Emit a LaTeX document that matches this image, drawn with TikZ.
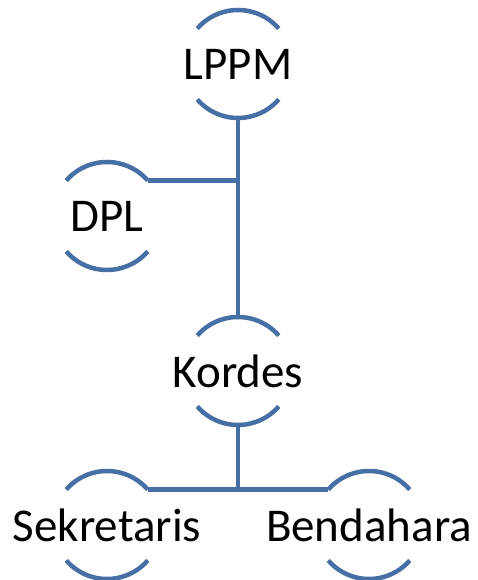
\documentclass[tikz,border=0pt]{standalone}
\usepackage{fontspec}
\setmainfont{Carlito}
\usetikzlibrary{calc}
\definecolor{orgblue}{RGB}{70,111,165}
\def\ringarcs(#1){\draw[orgline] (#1.41) arc (41:139:54); \draw[orgline] (#1.221) arc (221:319:54);}

\begin{document}
\begin{tikzpicture}[x=1pt, y=1pt,
	unit/.style={circle, minimum size=108pt, inner sep=0pt, outer sep=0pt, font=\fontsize{47}{54}\selectfont},
	orgline/.style={line width=4.5pt, color=orgblue}]
		%%%%% START %%%%%
		
		\useasboundingbox (0, 0) rectangle (477, 580);
		
		\node[unit] (lppm) at (238, 516) {\makebox[0pt]{LPPM}};
		\node[unit] (dpl) at (107, 364) {\makebox[0pt]{DPL}};
		\node[unit] (kordes) at (238, 209) {\makebox[0pt]{Kordes}};
		\node[unit] (sekretaris) at (107, 55) {\makebox[0pt]{Sekretaris}};
		\node[unit] (bendahara) at (369, 55) {\makebox[0pt]{Bendahara}};
		
		\ringarcs(lppm)
		\ringarcs(dpl)
		\ringarcs(kordes)
		\ringarcs(sekretaris)
		\ringarcs(bendahara)
		
		\draw[orgline] (lppm.south) -- (kordes.north);
		\draw[orgline] (dpl.41) -- (dpl.41 -| lppm.south);
		
		\coordinate (split) at (kordes.south |- sekretaris.41);
		\draw[orgline] (kordes.south) -- (split);
		\draw[orgline] (sekretaris.41) -- (bendahara.139);
		
		%%%%% END %%%%%
\end{tikzpicture}
\end{document}
